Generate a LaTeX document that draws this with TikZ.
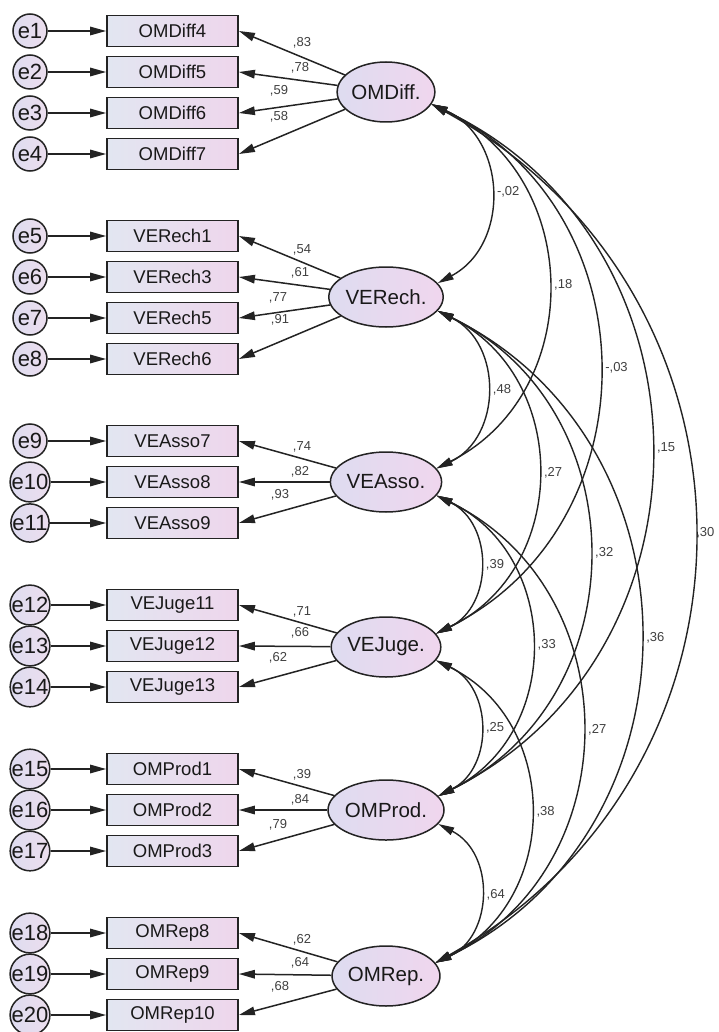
\documentclass[tikz,border=0pt]{standalone}
\usepackage{fontspec}
\setmainfont{Liberation Sans}
\usetikzlibrary{positioning, arrows.meta, shapes.geometric}

\definecolor{boxleft}{RGB}{226,230,241}
\definecolor{boxright}{RGB}{238,214,236}
\definecolor{latleft}{RGB}{222,220,240}
\definecolor{latright}{RGB}{240,214,238}
\definecolor{errfill}{RGB}{236,222,238}
\definecolor{inkgray}{RGB}{35,35,35}

\begin{document}
\begin{tikzpicture}[
x=1pt, y=-1pt,
obs/.style={
draw=inkgray,
line width=1.8pt,
rectangle,
minimum width=131pt,
minimum height=31pt,
left color=boxleft,
right color=boxright,
font=\fontsize{18.5}{18.5}\selectfont,
text=black!90
},
lat/.style={
draw=inkgray,
line width=1.5pt,
ellipse,
minimum width=88pt,
minimum height=60pt,
inner sep=0pt,
left color=latleft,
right color=latright,
font=\fontsize{20.5}{20.5}\selectfont,
text=black!90
},
err/.style={
draw=inkgray,
line width=1.5pt,
circle,
minimum size=34pt,
inner sep=0pt,
left color=latleft,
right color=errfill,
font=\fontsize{22}{22}\selectfont,
text=black!90
},
load/.style={line width=1.5pt, draw=inkgray, -{Triangle[length=16pt,width=8.5pt]}},
cov/.style={line width=1.4pt, draw=inkgray,
{Triangle[length=16pt,width=8pt]}-{Triangle[length=16pt,width=8pt]},
bend left=64, looseness=1.18},
coef/.style={font=\fontsize{13}{13}\selectfont, text=black!75, inner sep=1pt}
]
\fill[white] (0,0) rectangle (718,1032);
\useasboundingbox (0,0) rectangle (718,1032);

% observed variables and their errors
\foreach \r/\name [count=\i] in {0/OMDiff4, 1/OMDiff5, 2/OMDiff6, 3/OMDiff7,
5/VERech1, 6/VERech3, 7/VERech5, 8/VERech6,
10/VEAsso7, 11/VEAsso8, 12/VEAsso9,
14/VEJuge11, 15/VEJuge12, 16/VEJuge13,
18/OMProd1, 19/OMProd2, 20/OMProd3,
22/OMRep8, 23/OMRep9, 24/OMRep10}
{
\node[obs] (\name) at (172.5,{31+41*\r}) {\name};
\node[err] (e\i) at (30,{31+41*\r}) {e\i};
\draw[load] (e\i) -- (\name);
}

% latent factors
\node[lat] (omdiff) at (386,92) {OMDiff.};
\node[lat] (verech) at (386,297) {VERech.};
\node[lat] (veasso) at (386,482) {VEAsso.};
\node[lat] (vejuge) at (386,647) {VEJuge.};
\node[lat] (omprod) at (386,810) {OMProd.};
\node[lat] (omrep) at (386,976) {OMRep.};

% loadings
\foreach \f/\b/\v/\x/\y [count=\i] in {
omdiff/OMDiff4/83/302/43, omdiff/OMDiff5/78/300/68, omdiff/OMDiff6/59/279/91, omdiff/OMDiff7/58/279/117,
verech/VERech1/54/302/250, verech/VERech3/61/300/273, verech/VERech5/77/278/298, verech/VERech6/91/280/320,
veasso/VEAsso7/74/302/447, veasso/VEAsso8/82/300/472, veasso/VEAsso9/93/280/495,
vejuge/VEJuge11/71/302/612, vejuge/VEJuge12/66/300/633, vejuge/VEJuge13/62/278/658,
omprod/OMProd1/39/302/775, omprod/OMProd2/84/300/800, omprod/OMProd3/79/278/825,
omrep/OMRep8/62/302/940, omrep/OMRep9/64/300/963, omrep/OMRep10/68/280/987}
{
\draw[load] (\f) -- (\b.east);
\node[coef] (l\i) at (\x,\y) {,\v};
}

% covariances
\foreach \a/\b/\v [count=\i] in {
omdiff/verech/{-,02}, omdiff/veasso/{,18}, omdiff/vejuge/{-,03}, omdiff/omprod/{,15},
verech/veasso/{,48}, verech/vejuge/{,27}, verech/omprod/{,32}, verech/omrep/{,36},
veasso/vejuge/{,39}, veasso/omprod/{,33}, veasso/omrep/{,27},
vejuge/omprod/{,25}, vejuge/omrep/{,38},
omprod/omrep/{,64}}
\draw[cov] (\a.-15) to node[coef, anchor=west, xshift=5pt] (c\i) {\v} (\b.15);
\draw[cov, bend left=61] (omdiff.-15) to node[coef, anchor=west, xshift=1pt] (c15) {,30} (omrep.15);
\end{tikzpicture}
\end{document}
